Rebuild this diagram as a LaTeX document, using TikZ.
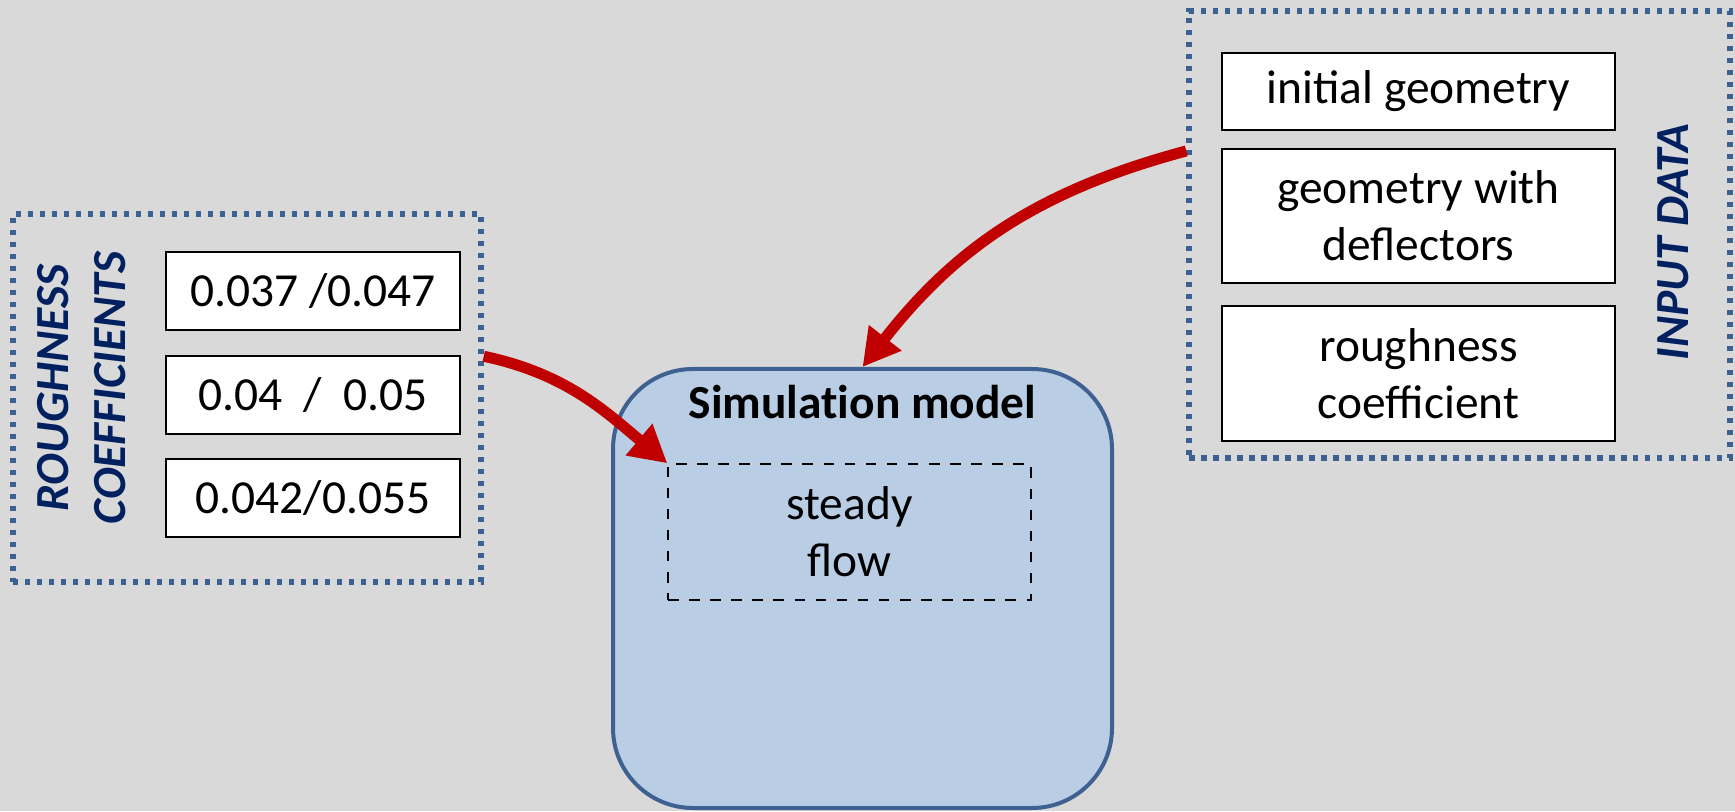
\documentclass[tikz,border=0pt]{standalone}
\usepackage{fontspec}
\setmainfont{Carlito}
\usepackage{tikz}
\usetikzlibrary{positioning, arrows.meta, backgrounds}
\definecolor{bggray}{HTML}{D9D9D9}
\definecolor{groupblue}{HTML}{3B6192}
\definecolor{modelblue}{HTML}{3E6191}
\definecolor{modelfill}{HTML}{B9CDE5}
\definecolor{navytext}{HTML}{002060}
\definecolor{arrowred}{HTML}{C00000}

\begin{document}
\begin{tikzpicture}[
        % --- Style Definitions ---
        node distance=0.24cm,
        font=\fontsize{13.5pt}{16.2pt}\selectfont,
        value_box/.style={rectangle, draw=black, line width=0.6pt, fill=white, minimum width=2.94cm, minimum height=0.78cm, inner sep=0pt},
        input_box/.style={rectangle, draw=black, line width=0.6pt, fill=white, minimum width=3.93cm, align=center, inner sep=0pt},
        group_style/.style={rectangle, draw=groupblue, line width=0.055cm, dash pattern=on 0.055cm off 0.065cm, inner sep=0pt},
        group_label/.style={font=\fontsize{13.5pt}{16.2pt}\selectfont\bfseries\itshape, text=navytext, rotate=90, align=center},
        model_style/.style={rectangle, rounded corners=0.8cm, draw=modelblue, line width=0.04cm, fill=modelfill, minimum width=4.99cm, minimum height=4.39cm},
        title_style/.style={font=\fontsize{13.5pt}{16.2pt}\selectfont\bfseries\addfontfeature{Ligatures=NoCommon}},
        flow_style/.style={rectangle, draw=black, dashed, line width=0.4pt, minimum width=3.63cm, minimum height=1.36cm, align=center},
        arrow/.style={-{Triangle[length=3.7mm, width=3.9mm]}, line width=0.11cm, draw=arrowred}
    ]

        % --- Canvas ---
        \useasboundingbox (0,0) rectangle (17.35,8.11);
        \fill[bggray] (0,0) rectangle (17.35,8.11);

        % --- Roughness coefficients ---
        \node[group_style, minimum width=4.68cm, minimum height=3.68cm] (rough_group) at (2.47,4.13) {};
        \node[group_label] (rough_label) at (0.815,4.23) {ROUGHNESS\\COEFFICIENTS};
        \node[value_box] (val_a) at (3.13,5.20) {0.037 /0.047};
        \node[value_box, below=0.24cm of val_a] (val_b) {0.04\ \ /\ \ 0.05};
        \node[value_box, below=0.23cm of val_b] (val_c) {0.042/0.055};

        % --- Input data ---
        \node[group_style, minimum width=5.41cm, minimum height=4.47cm] (input_group) at (14.595,5.765) {};
        \node[group_label] (input_label) at (16.73,5.69) {INPUT DATA};
        \node[input_box, minimum height=0.77cm] (geom_init) at (14.185,7.195) {initial geometry};
        \node[input_box, minimum height=1.34cm, below=0.17cm of geom_init] (geom_defl) {geometry with\\deflectors};
        \node[input_box, minimum height=1.35cm, below=0.21cm of geom_defl] (rough_in) {roughness\\coefficient};

        % --- Simulation model ---
        \node[model_style] (sim_model) at (8.625,2.225) {};
        \node[title_style] (sim_title) at ([yshift=-0.35cm]sim_model.north) {Simulation model};
        \node[flow_style] (steady_flow) at (8.495,2.79) {steady\\flow};

        % --- Arrows ---
        \draw[arrow] (rough_group.10) to[out=-12, in=140] (steady_flow.north west);
        \draw[arrow] (input_group.163) to[out=195, in=52] (sim_model.north);

    \end{tikzpicture}
\end{document}
